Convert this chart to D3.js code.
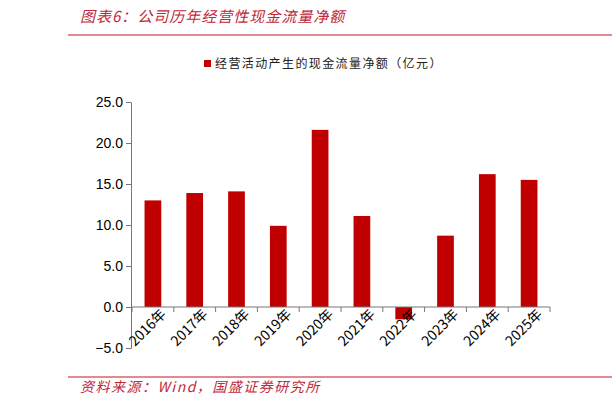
<!DOCTYPE html>
<html><head><meta charset="utf-8">
<script src="https://cdn.jsdelivr.net/npm/d3@7"></script>
<style>body{margin:0;background:#fff}svg{font-family:"Noto Sans CJK SC","Liberation Sans",sans-serif}</style>
</head><body>
<script>
const years = ["2016年","2017年","2018年","2019年","2020年","2021年","2022年","2023年","2024年","2025年"];
const values = [13.0, 13.9, 14.1, 9.9, 21.6, 11.1, -1.5, 8.7, 16.2, 15.5];
const yTicks = [-5, 0, 5, 10, 15, 20, 25];
const red = "#c00000";

const svg = d3.select("body").append("svg").attr("width", 612).attr("height", 407);

// header
svg.append("text").attr("x", 80).attr("y", 22).attr("fill", "#c0283a")
  .attr("font-size", 15).attr("letter-spacing", 1).attr("font-style", "italic").text("图表6：公司历年经营性现金流量净额");
svg.append("line").attr("x1", 68).attr("x2", 612).attr("y1", 35).attr("y2", 35)
  .attr("stroke", "#d9636b").attr("stroke-width", 1.5);

// legend
svg.append("rect").attr("x", 204).attr("y", 60).attr("width", 7).attr("height", 7).attr("fill", red);
svg.append("text").attr("x", 215).attr("y", 68).attr("font-size", 12).attr("letter-spacing", 1.4).attr("fill", "#222")
  .text("经营活动产生的现金流量净额（亿元）");

const x = d3.scaleBand().domain(years).range([132, 550]).paddingInner(0.6).paddingOuter(0.3);
const y = d3.scaleLinear().domain([-5, 25]).range([348, 102]);

svg.append("g").attr("transform", "translate(131,0)")
  .call(d3.axisLeft(y).tickValues(yTicks).tickFormat(d3.format(".1f")).tickSize(5).tickSizeOuter(0))
  .call(g => g.select(".domain").attr("stroke", "#777"))
  .call(g => g.selectAll(".tick line").attr("stroke", "#777"))
  .call(g => g.selectAll("text").attr("font-size", 14).attr("fill", "#000").attr("font-family", "Liberation Sans"));

svg.selectAll("rect.bar").data(values).join("rect").attr("class", "bar")
  .attr("x", (d, i) => x(years[i])).attr("width", x.bandwidth())
  .attr("y", d => y(Math.max(0, d))).attr("height", d => Math.abs(y(d) - y(0)))
  .attr("fill", red);

// zero axis with ticks between categories
const step = x.step();
const edges = d3.range(years.length + 1).map(i => x(years[0]) - x.paddingInner() * step / 2 + i * step);
svg.append("line").attr("x1", 131).attr("x2", edges[edges.length - 1]).attr("y1", y(0)).attr("y2", y(0)).attr("stroke", "#777");
svg.selectAll("line.tk").data(edges).join("line").attr("class", "tk")
  .attr("x1", d => d).attr("x2", d => d).attr("y1", y(0)).attr("y2", y(0) + 5).attr("stroke", "#777");

svg.selectAll("text.xl").data(years).join("text").attr("class", "xl")
  .attr("transform", d => `translate(${x(d) + x.bandwidth() / 2 + 14},${y(0) + 8}) rotate(-45)`)
  .attr("text-anchor", "end").attr("font-size", 14).attr("fill", "#000").text(d => d);

// footer
svg.append("line").attr("x1", 68).attr("x2", 612).attr("y1", 377).attr("y2", 377)
  .attr("stroke", "#d9636b").attr("stroke-width", 1.5);
svg.append("text").attr("x", 80).attr("y", 392).attr("fill", "#c0283a")
  .attr("font-size", 14).attr("letter-spacing", 1.5).attr("font-style", "italic").text("资料来源：Wind，国盛证券研究所");
</script>
</body></html>
